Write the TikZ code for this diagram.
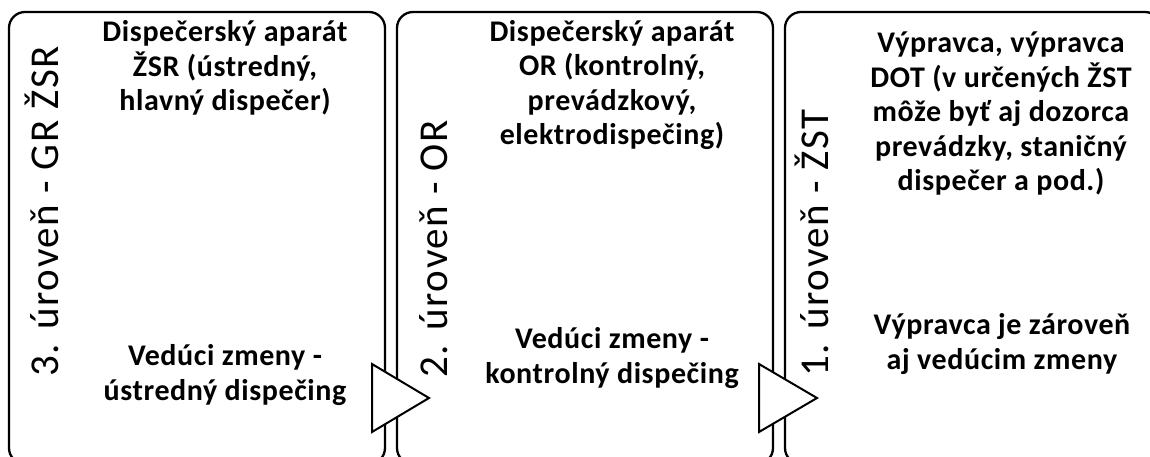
\documentclass[tikz,border=0pt]{standalone}
\usepackage{fontspec}
\setmainfont{Carlito}
\begin{document}
\begin{tikzpicture}[x=1pt,y=-1pt,
  panel/.style={draw=black,line width=2.3pt,rounded corners=16pt,fill=white},
  level/.style={rotate=90,anchor=base west,inner sep=0pt,font=\fontsize{41}{46}\selectfont\addfontfeature{LetterSpace=4}},
  role/.style={align=center,inner sep=0pt,font=\fontsize{30}{34.5}\selectfont\bfseries\addfontfeature{LetterSpace=2}},
  tri/.style={draw=black,line width=2pt,fill=white,line join=miter}]
\clip (0,0) rectangle (1150,457);
\fill[white] (0,0) rectangle (1150,457);
% panels
\draw[panel] (9,12) rectangle (385,464);
\draw[panel] (397,12) rectangle (773,464);
\draw[panel] (785,12) rectangle (1161,464);
% level labels
\node[level] (l3) at (58,377) {3. úroveň - GR ŽSR};
\node[level] (l2) at (447,378) {2. úroveň - OR};
\node[level] (l1) at (828,377) {1. úroveň - ŽST};
% roles
\node[role] (t3) at (225,68) {Dispečerský aparát\\ŽSR (ústredný,\\hlavný dispečer)};
\node[role] (b3) at (225,375) {Vedúci zmeny -\\ústredný dispečing};
\node[role] (t2) at (612,85) {Dispečerský aparát\\OR (kontrolný,\\prevádzkový,\\elektrodispečing)};
\node[role] (b2) at (612,358) {Vedúci zmeny -\\kontrolný dispečing};
\node[role] (t1) at (1001,114) {Výpravca, výpravca\\DOT (v určených ŽST\\môže byť aj dozorca\\prevádzky, staničný\\dispečer a pod.)};
\node[role] (b1) at (1002,344) {Výpravca je zároveň\\aj vedúcim zmeny};
% arrows
\draw[tri] (372,364) -- (429,398) -- (372,432) -- cycle;
\draw[tri] (759,364) -- (817,398) -- (759,432) -- cycle;
\end{tikzpicture}
\end{document}
